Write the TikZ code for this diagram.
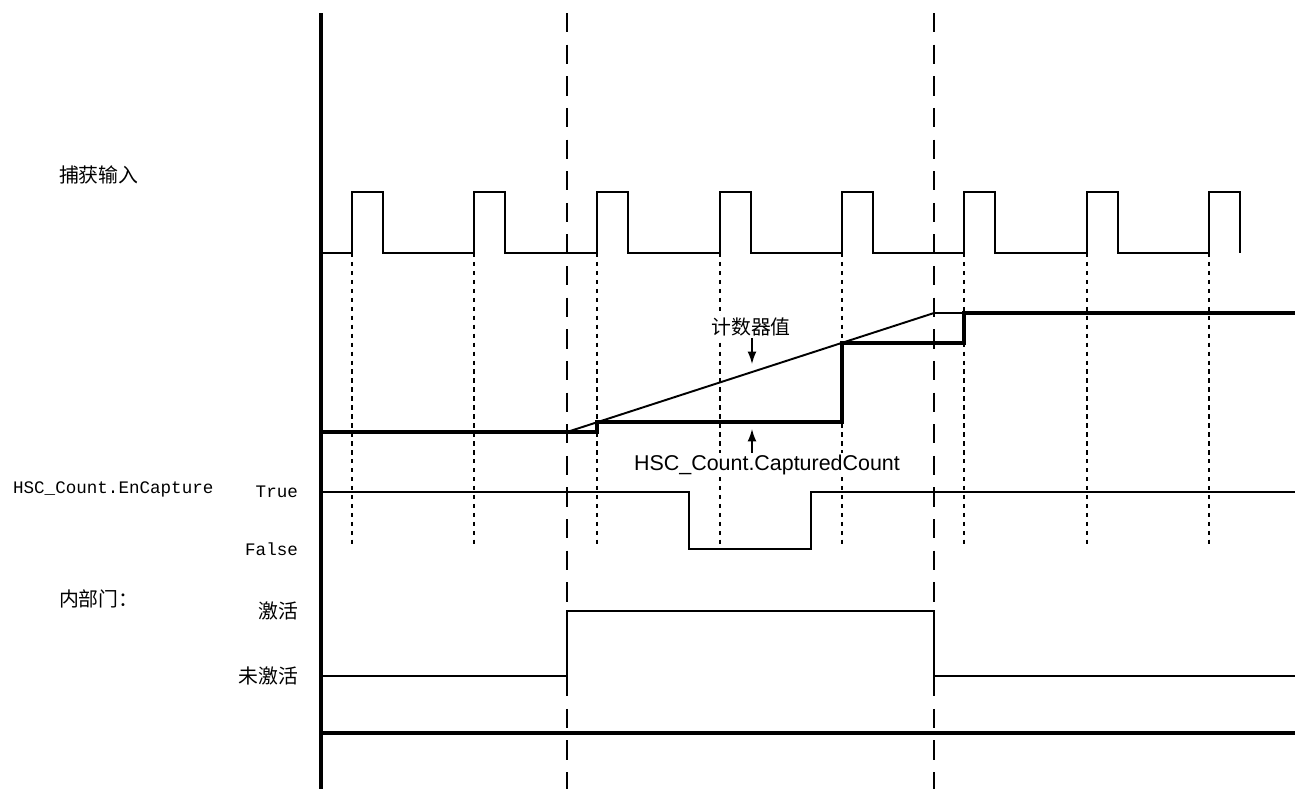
\documentclass[tikz,border=0pt]{standalone}
\usepackage{fontspec}
\setmainfont{Liberation Sans}
\newfontfamily\cjk{Noto Sans CJK SC}
\newfontfamily\monof{Liberation Mono}
\usetikzlibrary{arrows.meta}
\begin{document}
\begin{tikzpicture}[x=0.02cm,y=-0.02cm,
  sig/.style={line width=1.1pt},
  thk/.style={line width=2.3pt},
  axisline/.style={line width=1.8pt},
  longdash/.style={line width=0.8pt,dash pattern=on 11pt off 7pt},
  shortdash/.style={line width=0.8pt,dash pattern=on 2.5pt off 2.6pt},
  cjkl/.style={font=\cjk\fontsize{11.3}{13}\selectfont,inner sep=1pt},
  monol/.style={font=\monof\fontsize{10}{12}\selectfont,inner sep=1pt},
  sansl/.style={font=\fontsize{12.2}{14}\selectfont,inner sep=1pt},
  arr/.style={line width=0.8pt,-{Latex[length=7pt,width=5pt]}}]
\useasboundingbox (0,0) rectangle (1295,789);
% axis
\draw[axisline] (321,13) -- (321,789);
% long dashed lines
\draw[longdash] (567,13) -- (567,789);
\draw[longdash] (934,13) -- (934,789);
% dotted lines at rising edges
\foreach \x in {352,474,597,720,842,964,1087,1209}
  \draw[shortdash] (\x,253) -- (\x,548);
% capture input pulses
\draw[sig] (321,253) -- (352,253) -- (352,192) -- (383,192) -- (383,253)
  -- (474,253) -- (474,192) -- (505,192) -- (505,253)
  -- (597,253) -- (597,192) -- (628,192) -- (628,253)
  -- (720,253) -- (720,192) -- (751,192) -- (751,253)
  -- (842,253) -- (842,192) -- (873,192) -- (873,253)
  -- (964,253) -- (964,192) -- (995,192) -- (995,253)
  -- (1087,253) -- (1087,192) -- (1118,192) -- (1118,253)
  -- (1209,253) -- (1209,192) -- (1240,192) -- (1240,253);
% counter value ramp
\draw[sig] (567,432) -- (934,313) -- (964,313);
% captured count
\draw[thk] (321,432) -- (597,432) -- (597,422) -- (842,422) -- (842,343)
  -- (964,343) -- (964,313) -- (1295,313);
% EnCapture
\draw[sig] (321,492) -- (689,492) -- (689,549) -- (811,549) -- (811,492) -- (1295,492);
% internal gate
\draw[sig] (321,676) -- (567,676) -- (567,611) -- (934,611) -- (934,676) -- (1295,676);
% bottom thick line
\draw[line width=2.3pt] (321,733) -- (1295,733);
% labels
\node[cjkl,anchor=west] (capin) at (57,175) {捕获输入};
\node[monol,anchor=west] (encap) at (11,489) {HSC\_Count.EnCapture};
\node[monol,anchor=east] (true) at (300,492) {True};
\node[monol,anchor=east] (false) at (300,549) {False};
\node[cjkl,anchor=west] (gate) at (57,599) {内部门：};
\node[cjkl,anchor=east] (act) at (300,611) {激活};
\node[cjkl,anchor=east] (inact) at (300,676) {未激活};
\node[cjkl,fill=white] (cnt) at (751,327) {计数器值};
\node[sansl,fill=white] (cap) at (767,465) {HSC\_Count.CapturedCount};
\coordinate (cntTip) at (752,364);
\coordinate (capTip) at (752,429);
\draw[arr] (cnt.south -| cntTip) -- (cntTip);
\draw[arr] (cap.north -| capTip) -- (capTip);
\end{tikzpicture}
\end{document}
